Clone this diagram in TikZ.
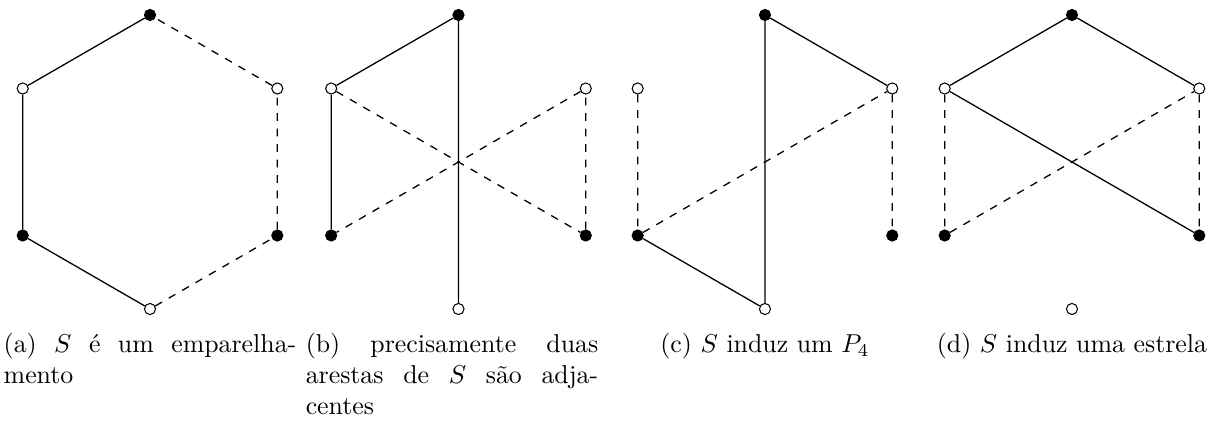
\documentclass[tikz,border=0pt]{standalone}
\usepackage{amsmath, amssymb}
\usepackage{tikz}

\tikzset{
	preto/.style={shape=circle, draw, fill=black, inner sep=0pt, minimum size=4.3pt},
	branco/.style={shape=circle, draw, fill=white, inner sep=0pt, minimum size=4.3pt},
	aresta/.style={line width=0.5pt},
	naoaresta/.style={line width=0.5pt, dashed},
	legenda/.style={anchor=north, inner sep=0pt, align=justify, text width=3.98cm},
	legendac/.style={anchor=north, inner sep=0pt}
}

\begin{document}
\begin{tikzpicture}
	\useasboundingbox (0, 0) rectangle (16.667, 5.741);
	% (a) vertices:
	\node[preto] (at) at (2.041, 5.537){};
	\node[branco] (aul) at (0.309, 4.537){};
	\node[preto] (all) at (0.309, 2.537){};
	\node[branco] (ab) at (2.041, 1.537){};
	\node[preto] (alr) at (3.773, 2.537){};
	\node[branco] (aur) at (3.773, 4.537){};
	% (a) edges:
	\draw[aresta] (at) -- (aul) -- (all) -- (ab);
	\draw[naoaresta] (ab) -- (alr) -- (aur) -- (at);
	% (b) vertices:
	\node[preto] (bt) at (6.238, 5.537){};
	\node[branco] (bul) at (4.506, 4.537){};
	\node[preto] (bll) at (4.506, 2.537){};
	\node[branco] (bb) at (6.238, 1.537){};
	\node[preto] (blr) at (7.970, 2.537){};
	\node[branco] (bur) at (7.970, 4.537){};
	% (b) edges:
	\draw[aresta] (bll) -- (bul) -- (bt) -- (bb);
	\draw[naoaresta] (bul) -- (blr) -- (bur) -- (bll);
	% (c) vertices:
	\node[preto] (ct) at (10.408, 5.537){};
	\node[branco] (cul) at (8.676, 4.537){};
	\node[preto] (cll) at (8.676, 2.537){};
	\node[branco] (cb) at (10.408, 1.537){};
	\node[preto] (clr) at (12.140, 2.537){};
	\node[branco] (cur) at (12.140, 4.537){};
	% (c) edges:
	\draw[aresta] (cur) -- (ct) -- (cb) -- (cll);
	\draw[naoaresta] (cul) -- (cll) -- (cur) -- (clr);
	% (d) vertices:
	\node[preto] (dt) at (14.585, 5.537){};
	\node[branco] (dul) at (12.853, 4.537){};
	\node[preto] (dll) at (12.853, 2.537){};
	\node[branco] (db) at (14.585, 1.537){};
	\node[preto] (dlr) at (16.317, 2.537){};
	\node[branco] (dur) at (16.317, 4.537){};
	% (d) edges:
	\draw[aresta] (dur) -- (dt) -- (dul) -- (dlr);
	\draw[naoaresta] (dul) -- (dll) -- (dur) -- (dlr);
	% Captions:
	\node[legenda] (capa) at (2.041, 1.216){(a) $S$ é um emparelha-\linebreak mento};
	\node[legenda] (capb) at (6.150, 1.216){(b) precisamente duas\linebreak arestas de $S$ são adja-\linebreak centes};
	\node[legendac] (capc) at (10.408, 1.216){(c) $S$ induz um $P_4$};
	\node[legendac] (capd) at (14.585, 1.216){(d) $S$ induz uma estrela};
\end{tikzpicture}
\end{document}
